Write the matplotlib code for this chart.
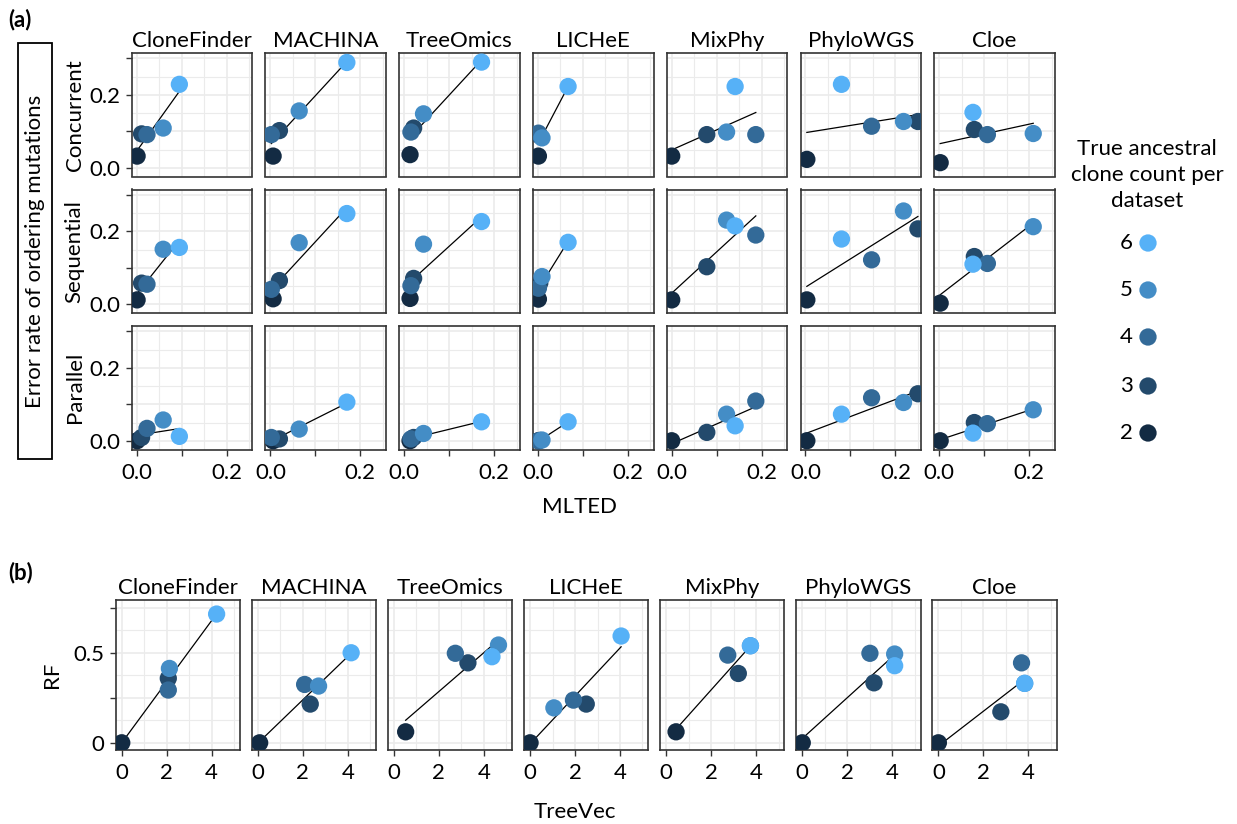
import numpy as np
import matplotlib.pyplot as plt
from matplotlib.patches import Rectangle

plt.rcParams['font.family'] = ['Lato', 'DejaVu Sans']

# -----------------------------
# Data (order of points inside each list: clone count 6, 5, 4, 3, 2)
# -----------------------------
methods = ["CloneFinder", "MACHINA", "TreeOmics", "LICHeE", "MixPhy", "PhyloWGS", "Cloe"]
orders = ["Concurrent", "Sequential", "Parallel"]
clone_counts = [6, 5, 4, 3, 2]
count_colors = ["#56B1F7", "#448DC6", "#336A98", "#234A6C", "#132B43"]

mlted = [
    [0.095, 0.059, 0.023, 0.011, 0.001],
    [0.170, 0.064, 0.002, 0.020, 0.006],
    [0.172, 0.043, 0.015, 0.021, 0.013],
    [0.067, 0.009, 0.001, 0.004, 0.001],
    [0.141, 0.122, 0.187, 0.078, 0.000],
    [0.080, 0.218, 0.147, 0.250, 0.003],
    [0.075, 0.209, 0.107, 0.078, 0.002],
]

err_concurrent = [
    [0.229, 0.109, 0.091, 0.093, 0.032],
    [0.289, 0.156, 0.091, 0.102, 0.032],
    [0.290, 0.148, 0.098, 0.109, 0.036],
    [0.223, 0.082, 0.095, 0.088, 0.032],
    [0.223, 0.098, 0.091, 0.091, 0.032],
    [0.229, 0.127, 0.114, 0.127, 0.023],
    [0.152, 0.094, 0.091, 0.105, 0.014],
]

err_sequential = [
    [0.156, 0.151, 0.055, 0.058, 0.012],
    [0.249, 0.169, 0.041, 0.065, 0.015],
    [0.227, 0.165, 0.051, 0.071, 0.016],
    [0.170, 0.076, 0.044, 0.058, 0.014],
    [0.215, 0.231, 0.190, 0.103, 0.012],
    [0.179, 0.256, 0.122, 0.207, 0.012],
    [0.110, 0.213, 0.112, 0.131, 0.003],
]

err_parallel = [
    [0.012, 0.057, 0.034, 0.009, 0.000],
    [0.106, 0.032, 0.009, 0.005, 0.000],
    [0.052, 0.020, 0.005, 0.009, 0.000],
    [0.052, 0.002, 0.000, 0.001, 0.000],
    [0.041, 0.073, 0.109, 0.023, 0.000],
    [0.073, 0.105, 0.118, 0.129, 0.000],
    [0.021, 0.085, 0.047, 0.050, 0.000],
]

treevec = [
    [4.22, 2.12, 2.07, 2.07, 0.00],
    [4.15, 2.70, 2.08, 2.33, 0.08],
    [4.36, 4.65, 2.73, 3.29, 0.52],
    [4.05, 1.06, 1.93, 2.50, 0.00],
    [3.75, 3.75, 2.74, 3.21, 0.44],
    [4.11, 4.11, 3.01, 3.19, 0.00],
    [3.84, 3.84, 3.70, 2.78, 0.00],
]

rf = [
    [0.715, 0.413, 0.293, 0.358, 0.000],
    [0.500, 0.315, 0.324, 0.215, 0.000],
    [0.478, 0.543, 0.497, 0.444, 0.061],
    [0.593, 0.194, 0.237, 0.215, 0.000],
    [0.539, 0.539, 0.487, 0.385, 0.061],
    [0.428, 0.493, 0.497, 0.333, 0.000],
    [0.330, 0.330, 0.444, 0.172, 0.000],
]

# -----------------------------
# Figure
# -----------------------------
W, H = 1237, 824
fig = plt.figure(figsize=(W / 100, H / 100), dpi=100)

FS = 16
GRID = "#EBEBEB"
EDGE = "#333333"


def px_axes(left, top, width, height):
    return fig.add_axes([left / W, 1 - (top + height) / H, width / W, height / H])


def style(ax):
    for s in ax.spines.values():
        s.set_color(EDGE)
        s.set_linewidth(1.2)
    ax.set_axisbelow(True)
    ax.grid(which="major", color=GRID, linewidth=1.2)
    ax.grid(which="minor", color=GRID, linewidth=0.8)
    ax.tick_params(which="major", length=4.5, width=1.0, color=EDGE,
                   labelsize=FS, labelcolor="black")
    ax.tick_params(axis="x", pad=5)
    ax.tick_params(axis="y", pad=4)
    ax.tick_params(which="minor", length=0)


def draw_panel(ax, xs, ys):
    xs = np.asarray(xs)
    ys = np.asarray(ys)
    # regression line
    k, b = np.polyfit(xs, ys, 1)
    xl = np.array([xs.min(), xs.max()])
    ax.plot(xl, k * xl + b, color="black", linewidth=0.9, zorder=2)
    # points, drawn from smallest count to largest
    for i in range(len(clone_counts) - 1, -1, -1):
        ax.scatter(xs[i], ys[i], s=155, color=count_colors[i],
                   edgecolors="none", zorder=3)


# -----------------------------
# Panel (a)
# -----------------------------
a_lefts = [131.7 + 133.77 * j for j in range(7)]
a_tops = [53, 189.5, 326]
a_w, a_h = 120.5, 123.5
rows = [err_concurrent, err_sequential, err_parallel]

for r in range(3):
    for c in range(7):
        ax = px_axes(a_lefts[c], a_tops[r], a_w, a_h)
        style(ax)
        draw_panel(ax, mlted[c], rows[r][c])
        ax.set_xlim(-0.011, 0.257)
        ax.set_ylim(-0.024, 0.315)
        ax.set_xticks([0, 0.1, 0.2])
        ax.set_xticks(np.arange(0.05, 0.26, 0.1), minor=True)
        ax.set_yticks([0, 0.1, 0.2, 0.3])
        ax.set_yticks(np.arange(0.05, 0.31, 0.1), minor=True)
        if r == 2:
            ax.set_xticklabels(["0.0", "", "0.2"])
        else:
            ax.tick_params(axis="x", which="both", length=0, labelbottom=False)
        if c == 0:
            ax.set_yticklabels(["0.0", "", "0.2", ""])
            ax.set_ylabel(orders[r], fontsize=FS, labelpad=3)
        else:
            ax.tick_params(axis="y", which="both", length=0, labelleft=False)
        if r == 0:
            ax.set_title(methods[c], fontsize=FS, pad=4)

# -----------------------------
# Panel (b)
# -----------------------------
b_lefts = [115.7 + 136.1 * j for j in range(7)]
b_top, b_w, b_h = 600, 124.3, 150

for c in range(7):
    ax = px_axes(b_lefts[c], b_top, b_w, b_h)
    style(ax)
    draw_panel(ax, treevec[c], rf[c])
    ax.set_xlim(-0.27, 5.26)
    ax.set_ylim(-0.04, 0.793)
    ax.set_xticks([0, 2, 4])
    ax.set_xticklabels(["0", "2", "4"])
    ax.set_xticks([1, 3, 5], minor=True)
    ax.set_yticks([0, 0.25, 0.5, 0.75])
    ax.set_yticks([0.125, 0.375, 0.625], minor=True)
    if c == 0:
        ax.set_yticklabels(["0", "", "0.5", ""])
        ax.set_ylabel("RF", fontsize=FS, labelpad=8)
    else:
        ax.tick_params(axis="y", which="both", length=0, labelleft=False)
    ax.set_title(methods[c], fontsize=FS, pad=4)

# -----------------------------
# Overlay: labels, box, legend
# -----------------------------
ov = fig.add_axes([0, 0, 1, 1], facecolor="none")
ov.set_xlim(0, W)
ov.set_ylim(H, 0)
ov.axis("off")

ov.text(8, 20, "(a)", fontsize=FS, fontweight="bold", va="center", ha="left")
ov.text(8, 573, "(b)", fontsize=FS, fontweight="bold", va="center", ha="left")

ov.add_patch(Rectangle((18, 43), 34, 416, fill=False, edgecolor="black", linewidth=1.3))
ov.text(35, 251, "Error rate of ordering mutations", rotation=90,
        fontsize=FS, ha="center", va="center")

ov.text(580, 507, "MLTED", fontsize=FS, ha="center", va="center")
ov.text(575, 812, "TreeVec", fontsize=FS, ha="center", va="center")

ov.text(1147, 175, "True ancestral\nclone count per\ndataset", fontsize=FS,
        ha="center", va="center", linespacing=1.35)
leg_y = [243, 290, 337, 386, 433]
for i, cnt in enumerate(clone_counts):
    ov.scatter(1148, leg_y[i], s=155, color=count_colors[i], edgecolors="none")
    ov.text(1133, leg_y[i], str(cnt), fontsize=FS, ha="right", va="center")

fig.savefig("out.png", dpi=100)
